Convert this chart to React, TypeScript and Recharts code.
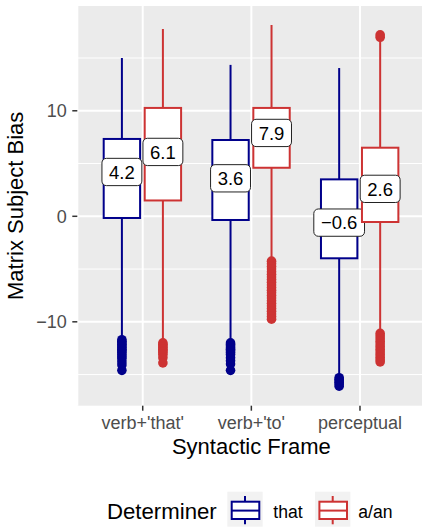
import React from 'react';
import { ComposedChart, Bar, XAxis, YAxis, CartesianGrid, Label } from 'recharts';

const FONT = '"Liberation Sans", Arial, Helvetica, sans-serif';

const categories = ["verb+'that'", "verb+'to'", 'perceptual'];
const seriesKeys = ['that', 'aan'];
const seriesNames = ['that', 'a/an'];
const seriesColors = ['#00008B', '#CD3333'];
const legendTitle = 'Determiner';
const xTitle = 'Syntactic Frame';
const yTitle = 'Matrix Subject Bias';

const yTicks = [-10, 0, 10];
const yMinorTicks = [-15, -5, 5, 15];

// series "that"
const thatWhiskerLow = [-11.5, -11.8, -15.0];
const thatQ1 = [-0.16, -0.35, -3.98];
const thatMedian = [4.2, 3.6, -0.6];
const thatQ3 = [7.33, 7.23, 3.5];
const thatWhiskerHigh = [15.0, 14.35, 14.05];
const thatOutliers = [
  [-11.7, -11.85, -12.0, -12.15, -12.3, -12.45, -12.6, -12.75, -12.9, -13.1, -13.3, -13.5, -13.8, -14.1, -14.6],
  [-12.0, -12.15, -12.3, -12.45, -12.6, -12.75, -12.9, -13.1, -13.4, -13.7, -14.0, -14.6],
  [-15.3, -15.45, -15.6, -15.75, -15.9, -16.1],
];

// series "a/an"
const aanWhiskerLow = [-11.8, -4.0, -10.8];
const aanQ1 = [1.5, 4.6, -0.54];
const aanMedian = [6.1, 7.9, 2.6];
const aanQ3 = [10.27, 10.27, 6.5];
const aanWhiskerHigh = [17.75, 18.13, 16.7];
const aanOutliers = [
  [-12.0, -12.15, -12.3, -12.45, -12.6, -12.75, -12.9, -13.1, -13.4, -13.9],
  [-4.25, -4.5, -4.75, -5.0, -5.25, -5.5, -5.75, -6.0, -6.25, -6.5, -6.75, -7.0, -7.25, -7.5, -7.75, -8.0, -8.25, -8.5, -8.75, -9.0, -9.25, -9.5, -9.75],
  [-11.1, -11.35, -11.6, -11.85, -12.1, -12.35, -12.6, -12.85, -13.1, -13.35, -13.6, -13.8, 16.97, 17.2],
];

const stats = {
  that: { lo: thatWhiskerLow, q1: thatQ1, med: thatMedian, q3: thatQ3, hi: thatWhiskerHigh, out: thatOutliers },
  aan: { lo: aanWhiskerLow, q1: aanQ1, med: aanMedian, q3: aanQ3, hi: aanWhiskerHigh, out: aanOutliers },
};

const rows = categories.map((frame, i) => {
  const row: any = { frame };
  seriesKeys.forEach((k) => {
    const s = (stats as any)[k];
    row[k] = { lo: s.lo[i], q1: s.q1[i], med: s.med[i], q3: s.q3[i], hi: s.hi[i], out: s.out[i] };
  });
  return row;
});

const fmt = (v: number) => (v < 0 ? '\u2212' + Math.abs(v).toFixed(1) : v.toFixed(1));
const fmtTick = (v: number) => (v < 0 ? '\u2212' + Math.abs(v) : String(v));

const LABEL_FS = 18.5;
const textWidth = (s: string) => {
  let w = 0;
  for (const ch of s) {
    if (ch === '.') w += 0.278;
    else if (ch === '\u2212') w += 0.584;
    else w += 0.556;
  }
  return w * LABEL_FS;
};

const makeBoxShape = (key: string, color: string) => (props: any) => {
  const { x, y, width, height, payload } = props;
  const s = payload[key];
  const top = Math.min(y, y + height);
  const h = Math.abs(height);
  const k = h / (s.q3 - s.q1);
  const py = (v: number) => top + (s.q3 - v) * k;
  const cx = x + width / 2;
  const inset = 2.3;
  const bx = x + inset;
  const bw = width - 2 * inset;
  const txt = fmt(s.med);
  const lw = textWidth(txt) + 14.2;
  const lh = 27.3;
  const my = py(s.med);
  return (
    <g>
      <line x1={cx} x2={cx} y1={py(s.hi)} y2={py(s.q3)} stroke={color} strokeWidth={2} />
      <line x1={cx} x2={cx} y1={py(s.q1)} y2={py(s.lo)} stroke={color} strokeWidth={2} />
      {s.out.map((v: number, j: number) => (
        <circle key={j} cx={cx} cy={py(v)} r={4.8} fill={color} />
      ))}
      <rect x={bx} y={py(s.q3)} width={bw} height={py(s.q1) - py(s.q3)} fill="#FFFFFF" stroke={color} strokeWidth={2} />
      <line x1={bx} x2={bx + bw} y1={my} y2={my} stroke={color} strokeWidth={2} />
      <rect x={cx - lw / 2} y={my - lh / 2} width={lw} height={lh} rx={4.5} ry={4.5} fill="#FFFFFF" stroke="#222222" strokeWidth={1} />
      <text x={cx} y={my} dy="0.36em" textAnchor="middle" fontSize={LABEL_FS} fill="#000000" fontFamily={FONT}>
        {txt}
      </text>
    </g>
  );
};

const Legend = () => {
  const keyX = [227.3, 315];
  const textX = [273.3, 358.3];
  const keyY = 491.7;
  return (
    <svg width={422} height={527} style={{ position: 'absolute', left: 0, top: 0, pointerEvents: 'none' }}>
      <text x={107} y={519.3} fontSize={22.2} fill="#000" fontFamily={FONT}>
        {legendTitle}
      </text>
      {seriesNames.map((name, i) => {
        const x0 = keyX[i];
        const c = seriesColors[i];
        const mid = x0 + 17.7;
        return (
          <g key={name}>
            <rect x={x0} y={keyY} width={35.4} height={35} fill="#F2F2F2" />
            <line x1={mid} x2={mid} y1={keyY + 4.3} y2={keyY + 32.6} stroke={c} strokeWidth={2} />
            <rect x={x0 + 4.4} y={keyY + 10} width={27.6} height={17.3} fill="#FFFFFF" stroke={c} strokeWidth={2} />
            <line x1={x0 + 4.4} x2={x0 + 32} y1={keyY + 18.9} y2={keyY + 18.9} stroke={c} strokeWidth={2} />
            <text x={textX[i]} y={518} fontSize={17.6} fill="#000" fontFamily={FONT}>
              {name}
            </text>
          </g>
        );
      })}
    </svg>
  );
};

export default function App() {
  return (
    <div
      style={{
        position: 'absolute',
        left: 0,
        top: 0,
        width: 422,
        height: 527,
        overflow: 'hidden',
        background: '#FFFFFF',
        fontFamily: FONT,
      }}
    >
      <ComposedChart
        width={426}
        height={527}
        data={rows}
        margin={{ top: 6, right: 0.6, left: 0, bottom: 0 }}
        barGap={0}
      >
        <CartesianGrid
          vertical={false}
          horizontalValues={yMinorTicks}
          stroke="#FFFFFF"
          strokeWidth={1}
          fill="#EBEBEB"
          fillOpacity={1}
        />
        <CartesianGrid horizontalValues={yTicks} stroke="#FFFFFF" strokeWidth={2} />
        <XAxis
          dataKey="frame"
          type="category"
          interval={0}
          height={121.3}
          padding={{ left: 11.1, right: 11.1 }}
          axisLine={false}
          tickSize={5}
          tickMargin={5.8}
          tickLine={{ stroke: '#333333', strokeWidth: 1.5 }}
          tick={{ fill: '#4D4D4D', fontSize: 18, fontFamily: FONT }}
        >
          <Label value={xTitle} position="insideTop" offset={32.7} fontSize={22} fill="#000000" fontFamily={FONT} />
        </XAxis>
        <YAxis
          type="number"
          domain={[-17.95, 19.93]}
          ticks={yTicks}
          tickFormatter={fmtTick}
          width={77.3}
          axisLine={false}
          tickSize={5}
          tickMargin={5.6}
          tickLine={{ stroke: '#333333', strokeWidth: 1.5 }}
          tick={{ fill: '#4D4D4D', fontSize: 18, fontFamily: FONT }}
        >
          <Label
            value={yTitle}
            angle={-90}
            position="insideLeft"
            offset={17.5}
            dx={-2}
            fontSize={22}
            fill="#000000"
            fontFamily={FONT}
            style={{ textAnchor: 'middle' }}
          />
        </YAxis>
        {seriesKeys.map((k, i) => (
          <Bar
            key={k}
            name={seriesNames[i]}
            dataKey={(d: any) => [d[k].q1, d[k].q3]}
            barSize={41}
            fill={seriesColors[i]}
            shape={makeBoxShape(k, seriesColors[i])}
            isAnimationActive={false}
          />
        ))}
      </ComposedChart>
      <Legend />
    </div>
  );
}
